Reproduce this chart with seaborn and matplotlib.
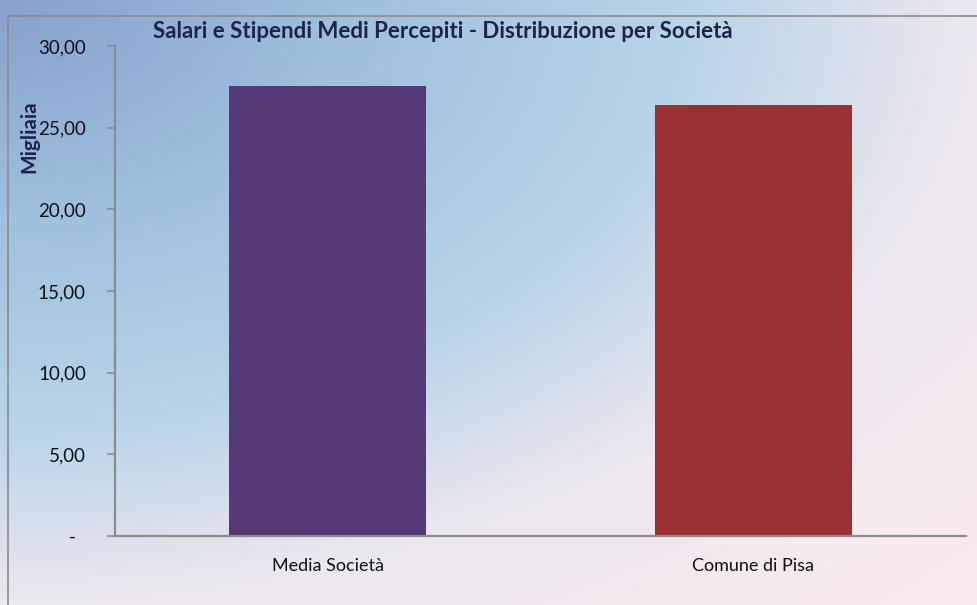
import numpy as np
import matplotlib
matplotlib.use("Agg")
import matplotlib.pyplot as plt
from matplotlib.lines import Line2D
from matplotlib.ticker import FixedLocator
import seaborn as sns

categories = ["Media Società", "Comune di Pisa"]
values = [27.55, 26.38]
bar_colors = ["#553a77", "#9b3032"]
yticks = [0, 5, 10, 15, 20, 25, 30]
ytick_labels = ["-  ", "5,00", "10,00", "15,00", "20,00", "25,00", "30,00"]
title = "Salari e Stipendi Medi Percepiti - Distribuzione per Società"
ylabel = "Migliaia"

sns.set_theme(style="white")
plt.rcParams["font.family"] = ["Lato", "DejaVu Sans"]

W, H = 978, 605
fig = plt.figure(figsize=(W / 100, H / 100), dpi=100)

# background gradient
bg = fig.add_axes([0, 0, 1, 1], zorder=-10)
xx, yy = np.meshgrid(np.linspace(0, 1, 400), np.linspace(0, 1, 250))
d = np.sqrt(xx ** 2 + yy ** 2)
stops = [0.0, 0.35, 0.7, 1.0, 1.45]
cols = np.array([
    [0.53, 0.63, 0.80],
    [0.62, 0.75, 0.87],
    [0.72, 0.83, 0.91],
    [0.93, 0.91, 0.94],
    [0.99, 0.92, 0.94],
])
img = np.zeros(d.shape + (3,))
for c in range(3):
    img[..., c] = np.interp(d, stops, cols[:, c])
bg.imshow(img, aspect="auto", extent=[0, 1, 1, 0], origin="upper")
bg.set_xlim(0, 1)
bg.set_ylim(1, 0)
bg.axis("off")

# chart border
fig.add_artist(Line2D([8 / W, 8 / W], [0, 1 - 16 / H], transform=fig.transFigure, color="#8c8c8c", lw=1.2))
fig.add_artist(Line2D([8 / W, 1], [1 - 16 / H, 1 - 16 / H], transform=fig.transFigure, color="#8c8c8c", lw=1.2))

ax = fig.add_axes([115 / W, (H - 536) / H, (966 - 115) / W, (536 - 46) / H])
ax.patch.set_alpha(0)
sns.barplot(x=categories, y=values, hue=categories, palette=bar_colors,
            width=0.463, legend=False, ax=ax, saturation=1, linewidth=0)
ax.set_xlim(-0.5, 1.5)
ax.set_ylim(0, 30)
ax.set_yticks(yticks)
ax.set_yticklabels(ytick_labels, fontsize=13.5, color="#111111")
ax.set_xticks([0, 1])
ax.set_xticklabels(categories, fontsize=13, color="#111111")
ax.xaxis.set_minor_locator(FixedLocator([-0.5, 0.5, 1.5]))
ax.tick_params(axis="x", which="major", length=0, pad=16)
ax.tick_params(axis="x", which="minor", length=6, width=1.2, color="#8c8c8c", direction="out")
ax.tick_params(axis="y", which="major", length=6, width=1.2, color="#8c8c8c", direction="out", pad=15, left=True)
for s in ["top", "right"]:
    ax.spines[s].set_visible(False)
for s in ["left", "bottom"]:
    ax.spines[s].set_color("#8c8c8c")
    ax.spines[s].set_linewidth(1.6)
ax.set_xlabel("")
ax.set_ylabel("")
ax.grid(False)

fig.text(443 / W, 1 - 32 / H, title, ha="center", va="center", fontsize=16,
         fontweight="bold", color="#1c2548")
fig.text(29 / W, 1 - 137 / H, ylabel, ha="center", va="center", rotation=90,
         fontsize=15, fontweight="bold", color="#1c2548")

fig.savefig("out.png", dpi=100)
